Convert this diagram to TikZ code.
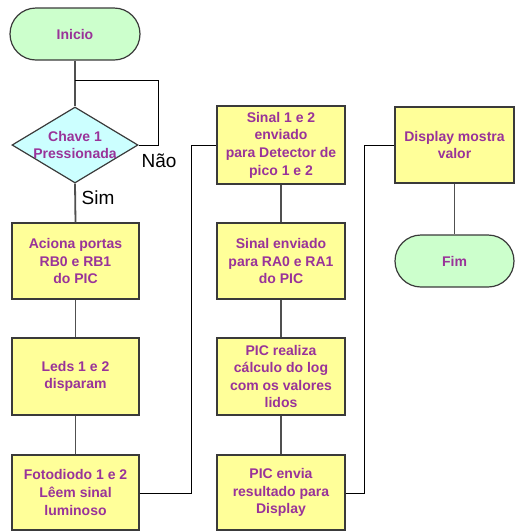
\documentclass[tikz,border=0pt]{standalone}
\usepackage{fontspec}
\setmainfont{Liberation Sans}
\usetikzlibrary{shapes.geometric,shapes.misc}
\definecolor{boxfill}{HTML}{FFFF99}
\definecolor{termfill}{HTML}{CCFFCC}
\definecolor{decfill}{HTML}{CCFFFF}
\definecolor{txt}{HTML}{993399}
\definecolor{edge}{HTML}{3A3A3A}
\definecolor{linegray}{HTML}{505050}
\tikzset{
  x=1pt, y=-1pt,
  txtstyle/.style={text=txt, font=\fontsize{14}{17.6}\selectfont\bfseries, align=center},
  stepbox/.style={draw=edge, line width=1.2pt, fill=boxfill, rectangle, inner sep=0pt,
    minimum width=127pt, minimum height=76pt, txtstyle},
  termbox/.style={draw=edge, line width=1.2pt, fill=termfill, rounded rectangle, inner sep=0pt,
    minimum height=52pt, txtstyle},
  flow/.style={draw=linegray, line width=1.8pt},
  elbow/.style={draw=black, line width=1pt},
  answer/.style={font=\fontsize{19}{22}\selectfont, text=black}
}
\begin{document}
\begin{tikzpicture}
\useasboundingbox (0,0) rectangle (515,531);
% first column
\node[termbox, minimum width=130pt] (ini) at (75,34) {Inicio};
\node[diamond, draw=edge, line width=1.2pt, fill=decfill, inner sep=0pt,
      minimum width=126pt, minimum height=76pt] (dec) at (75,145) {};
\node[txtstyle] (dectxt) at (75,145) {Chave 1\\Pressionada};
\node[stepbox] (b1) at (75.5,261) {Aciona portas\\RB0 e RB1\\do PIC};
\node[stepbox, minimum height=77pt] (b2) at (75.5,376.5) {Leds 1 e 2\\disparam};
\node[stepbox, minimum height=75pt] (b3) at (75.5,492.5) {Fotodiodo 1 e 2\\Lêem sinal\\luminoso};
% second column
\node[stepbox, minimum width=128pt, minimum height=78pt] (c1) at (281,145) {Sinal 1 e 2\\enviado\\para Detector de\\pico 1 e 2};
\node[stepbox, minimum width=128pt] (c2) at (281,261) {Sinal enviado\\para RA0 e RA1\\do PIC};
\node[stepbox, minimum width=128pt, minimum height=77pt] (c3) at (281,376.5) {PIC realiza\\cálculo do log\\com os valores\\lidos};
\node[stepbox, minimum width=128pt, minimum height=75pt] (c4) at (281,492.5) {PIC envia\\resultado para\\Display};
% third column
\node[stepbox, minimum width=119pt] (d1) at (454.5,145) {Display mostra\\valor};
\node[termbox, minimum width=119pt] (fim) at (454.5,261) {Fim};
% decision labels
\node[answer] (nao) at (159,161) {Não};
\node[answer] (sim) at (98,198) {Sim};
% connectors
\coordinate (loop) at (75,80);
\coordinate (j1) at (191,493);
\coordinate (j2) at (364,493);
\draw[flow] (ini.south) -- (dec.north);
\draw[elbow] (dec.east) -- ++(20,0) |- (loop);
\draw[flow] (dec.south) -- (b1.north);
\draw[flow] (b1.south) -- (b2.north);
\draw[flow] (b2.south) -- (b3.north);
\draw[elbow] (b3.east |- j1) -- (j1) |- (c1.west);
\draw[flow] (c1.south) -- (c2.north);
\draw[flow] (c2.south) -- (c3.north);
\draw[flow] (c3.south) -- (c4.north);
\draw[elbow] (c4.east |- j2) -- (j2) |- (d1.west);
\draw[flow] (d1.south) -- (fim.north);
\end{tikzpicture}
\end{document}
